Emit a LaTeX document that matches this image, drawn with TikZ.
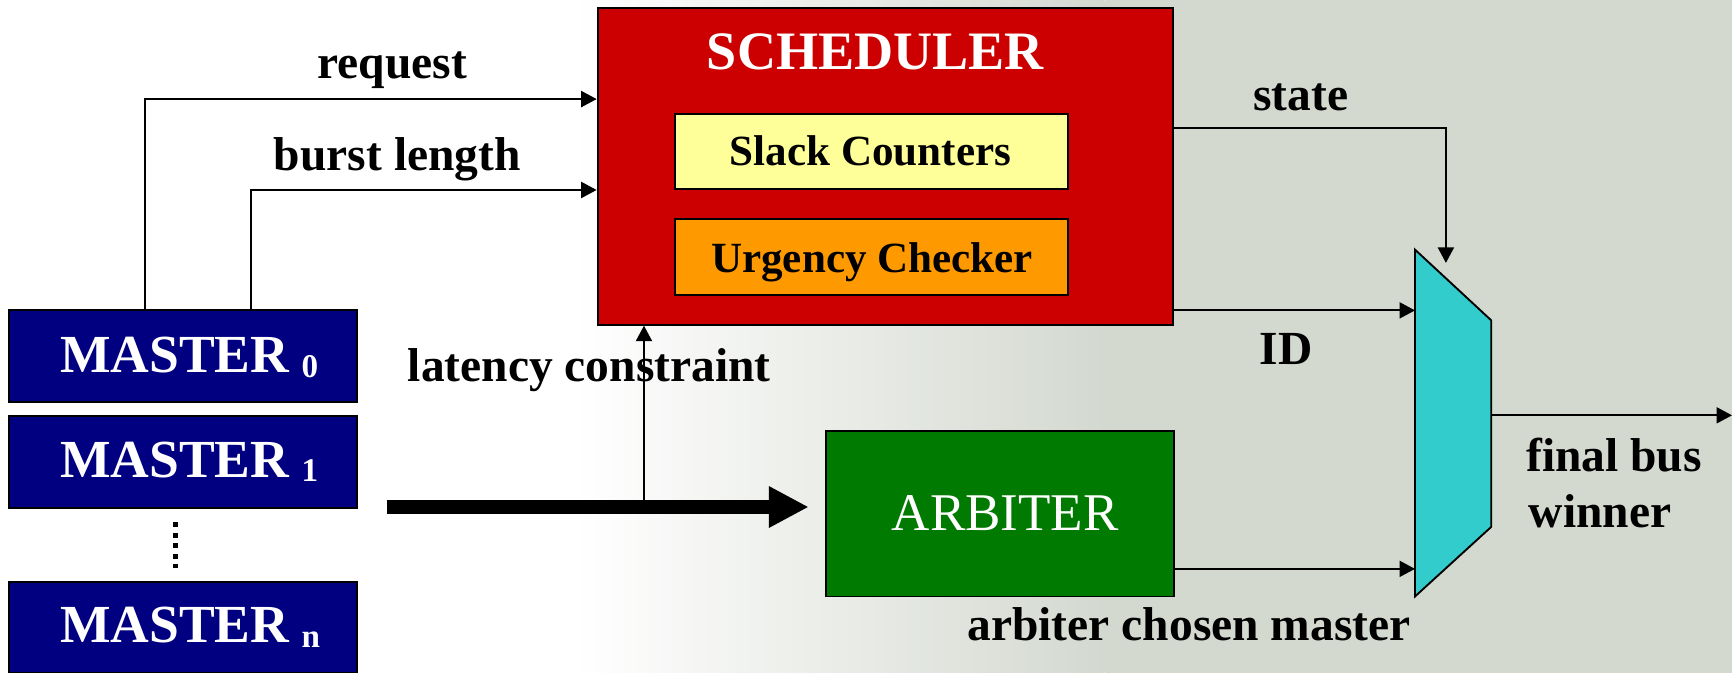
\documentclass[tikz,border=0pt]{standalone}
\usepackage{fontspec}
\setmainfont{Liberation Serif}
\usetikzlibrary{arrows.meta,calc}
\definecolor{schedred}{HTML}{CC0000}
\definecolor{slacky}{HTML}{FFFF99}
\definecolor{urgor}{HTML}{FF9900}
\definecolor{mnavy}{HTML}{000080}
\definecolor{arbgreen}{HTML}{007A00}
\definecolor{muxcyan}{HTML}{33CCCC}
\definecolor{bgc}{HTML}{D4D9D0}
\newcommand{\fsz}[1]{\fontsize{#1}{#1}\selectfont}
\newcommand{\mastertxt}[1]{MASTER\hspace{11pt}\raisebox{-4pt}{\fsz{30}\bfseries #1}}
\begin{document}
\begin{tikzpicture}[x=1pt,y=-1pt,
  box/.style={draw=black, line width=1.7pt, inner sep=0pt},
  conn/.style={line width=1.8pt, -{Triangle[length=14pt,width=14.5pt]}},
  lbl/.style={anchor=base, font=\fsz{43}\bfseries, inner sep=0pt},
  intxt/.style={anchor=base, inner sep=0pt},
  mtxt/.style={anchor=base west, text=white, font=\fsz{48.5}\bfseries, inner sep=0pt}]
\useasboundingbox (0,0) rectangle (1568,609);
% background
\fill[white] (0,0) rectangle (1568,609);
\shade[left color=white, right color=bgc] (520,0) rectangle (1000,609);
\fill[bgc] (1000,0) rectangle (1568,609);

% scheduler
\node[box, fill=schedred, minimum width=521pt, minimum height=287pt] (sched) at (801.5,150.5) {};
\node[intxt, text=white, font=\fsz{49}\bfseries] (schedt) at (792.5,62.5) {SCHEDULER};
\node[box, fill=slacky, minimum width=356pt, minimum height=68pt] (slack) at (789,137) {};
\node[intxt, font=\fsz{39}\bfseries] (slackt) at (788,150) {Slack Counters};
\node[box, fill=urgor, minimum width=356pt, minimum height=68.5pt] (urg) at (789,232.75) {};
\node[intxt, font=\fsz{39}\bfseries] (urgt) at (789.5,247) {Urgency Checker};

% masters
\node[box, fill=mnavy, minimum width=315pt, minimum height=83pt] (m0) at (165.5,322.5) {};
\node[mtxt] (m0t) at (54.3,337.4) {\mastertxt{0}};
\node[box, fill=mnavy, minimum width=315pt, minimum height=83pt] (m1) at (165.5,418.5) {};
\node[mtxt] (m1t) at (54.3,432) {\mastertxt{1}};
\node[box, fill=mnavy, minimum width=315pt, minimum height=82pt] (mn) at (165.5,568) {};
\node[mtxt] (mnt) at (54.3,582) {\mastertxt{n}};
\coordinate (dtop) at (159,473);
\coordinate (dbot) at (159,514);
\draw[line width=4.5pt, dash pattern=on 4.5pt off 5pt] (dtop) -- (dbot);

% arbiter
\node[box, fill=arbgreen, minimum width=315pt, minimum height=149.5pt] (arb) at (905.5,465.25) {};
\node[intxt, text=white, font=\fsz{48}] (arbt) at (910,480) {ARBITER};

% mux
\draw[line width=1.7pt, fill=muxcyan] (1281,226) coordinate (mux1) -- (1350,290) coordinate (mux2)
  -- (1350,477) coordinate (mux3) -- (1281,540) coordinate (mux4) -- cycle;
\coordinate (muxs) at (1309,238);
\coordinate (muxid) at (1281,281);
\coordinate (muxarb) at (1281,515);
\coordinate (muxout) at (1350,376);
\coordinate (outend) at (1568,376);

% connectors
\coordinate (rq) at (131,281);
\coordinate (bl) at (227,281);
\coordinate (yreq) at (0,89.7);
\coordinate (ybl) at (0,172);
\coordinate (ystate) at (0,116);
\draw[conn] (rq) |- (sched.west |- yreq);
\draw[conn] (bl) |- (sched.west |- ybl);
\draw[conn] (sched.east |- ystate) -| (muxs);
\draw[conn] (sched.east |- muxid) -- (muxid);
\draw[conn] (arb.east |- muxarb) -- (muxarb);
\draw[conn] (muxout) -- (outend);

\coordinate (bus) at (350,459);
\coordinate (lat) at (583,459);
\draw[conn] (lat) -- (sched.south -| lat);
\draw[line width=12pt, -{Triangle[length=36pt,width=35pt]}, shorten >=15pt] (bus) -- (bus -| arb.west);

% labels
\node[lbl] (lreq) at (355,70.8) {request};
\node[lbl] (lbl) at (359.75,154) {burst length};
\node[lbl] (lstate) at (1177.5,99.6) {state};
\node[lbl] (lid) at (1164.5,330) {ID};
\node[lbl] (llat) at (533.5,345.6) {latency constraint};
\node[lbl] (larb) at (1076.5,579.6) {arbiter chosen master};
\node[lbl, anchor=base west] (lfin1) at (1381.5,427) {final bus};
\node[lbl, anchor=base west] (lfin2) at (1384,478) {winner};
\end{tikzpicture}
\end{document}
